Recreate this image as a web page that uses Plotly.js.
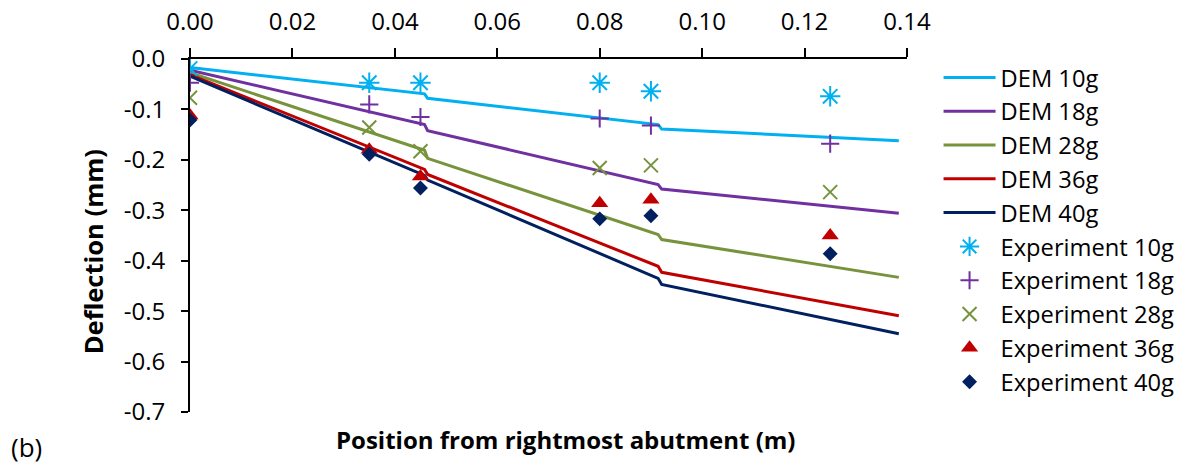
<!DOCTYPE html>
<html>
<head>
<meta charset="utf-8">
<script src="https://cdn.plot.ly/plotly-3.0.1.min.js"></script>
<style>
  html, body { margin: 0; padding: 0; background: #ffffff; }
  #chart { width: 1198px; height: 468px; }
</style>
</head>
<body>
<div id="chart"></div>
<script>
// DEM model: positions from the rightmost abutment (m) and deflections (mm)
const demX  = [0, 0.0458, 0.0464, 0.0914, 0.0921, 0.1384];
const dem10 = [-0.017, -0.069, -0.078, -0.130, -0.139, -0.162];
const dem18 = [-0.022, -0.130, -0.142, -0.249, -0.258, -0.306];
const dem28 = [-0.027, -0.181, -0.197, -0.348, -0.358, -0.433];
const dem36 = [-0.031, -0.219, -0.229, -0.411, -0.423, -0.509];
const dem40 = [-0.034, -0.231, -0.240, -0.435, -0.447, -0.545];

// Measured deflections (mm) at the gauge positions (m)
const expX  = [0, 0.035, 0.045, 0.08, 0.09, 0.125];
const exp10 = [-0.019, -0.047, -0.047, -0.047, -0.064, -0.074];
const exp18 = [-0.047, -0.090, -0.115, -0.118, -0.132, -0.168];
const exp28 = [-0.077, -0.136, -0.183, -0.216, -0.211, -0.264];
const exp36 = [-0.112, -0.180, -0.233, -0.286, -0.279, -0.350];
const exp40 = [-0.121, -0.189, -0.256, -0.317, -0.311, -0.386];

// Axis ticks
const xTickVals = [0, 0.02, 0.04, 0.06, 0.08, 0.10, 0.12, 0.14];
const xTickText = ['0.00', '0.02', '0.04', '0.06', '0.08', '0.10', '0.12', '0.14'];
const yTickVals = [0, -0.1, -0.2, -0.3, -0.4, -0.5, -0.6, -0.7];
const yTickText = ['0.0', '-0.1', '-0.2', '-0.3', '-0.4', '-0.5', '-0.6', '-0.7'];

const FONT = '"Open Sans", Lato, sans-serif';
const C10 = '#00B0F0', C18 = '#7030A0', C28 = '#77933C', C36 = '#C00000', C40 = '#002060';

function demTrace(name, y, color) {
  return { x: demX, y: y, name: name, type: 'scatter', mode: 'lines',
           line: { color: color, width: 3 } };
}
function expTrace(name, y, color, symbol, size, lw) {
  return { x: expX, y: y, name: name, type: 'scatter', mode: 'markers',
           marker: { symbol: symbol, size: size, color: color,
                     line: { color: color, width: lw } } };
}

const traces = [
  demTrace('DEM 10g', dem10, C10),
  demTrace('DEM 18g', dem18, C18),
  demTrace('DEM 28g', dem28, C28),
  demTrace('DEM 36g', dem36, C36),
  demTrace('DEM 40g', dem40, C40),
  expTrace('Experiment 10g', exp10, C10, 'asterisk-open', 17, 2),
  expTrace('Experiment 18g', exp18, C18, 'cross-thin-open', 13, 2),
  expTrace('Experiment 28g', exp28, C28, 'x-thin-open', 14, 2),
  expTrace('Experiment 36g', exp36, C36, 'triangle-up', 15, 0),
  expTrace('Experiment 40g', exp40, C40, 'diamond', 11.5, 0)
];

const layout = {
  width: 1198, height: 468,
  paper_bgcolor: '#ffffff', plot_bgcolor: '#ffffff',
  margin: { l: 190, r: 291, t: 59, b: 56, pad: 0 },
  font: { family: FONT, size: 24, color: '#000000' },
  showlegend: true,
  legend: {
    x: 1.044, xanchor: 'left', y: 1.01, yanchor: 'top',
    font: { family: FONT, size: 23.7, color: '#000000' },
    bgcolor: 'rgba(0,0,0,0)', borderwidth: 0, tracegroupgap: 0,
    itemwidth: 52, maxheight: 420
  },
  xaxis: {
    range: [0, 0.14], side: 'top',
    tickmode: 'array', tickvals: xTickVals, ticktext: xTickText,
    showline: true, linecolor: '#000000', linewidth: 2,
    ticks: 'outside', ticklen: 9, tickwidth: 2, tickcolor: '#000000',
    ticklabelstandoff: 8,
    showgrid: false, zeroline: false,
    tickfont: { family: FONT, size: 24, color: '#000000' }
  },
  yaxis: {
    range: [-0.7, 0],
    tickmode: 'array', tickvals: yTickVals, ticktext: yTickText,
    showline: true, linecolor: '#000000', linewidth: 2,
    ticks: 'outside', ticklen: 7, tickwidth: 2, tickcolor: '#000000',
    ticklabelstandoff: 11,
    showgrid: false, zeroline: false,
    tickfont: { family: FONT, size: 24, color: '#000000' }
  },
  annotations: [
    { text: '<b>Position from rightmost abutment (m)</b>', xref: 'paper', yref: 'paper',
      x: 0.524, y: -0.079, xanchor: 'center', yanchor: 'middle', showarrow: false,
      font: { family: FONT, size: 24, color: '#000000' } },
    { text: '<b>Deflection (mm)</b>', xref: 'paper', yref: 'paper',
      x: -0.135, y: 0.453, xanchor: 'center', yanchor: 'middle', showarrow: false, textangle: -90,
      font: { family: FONT, size: 25.5, color: '#000000' } },
    { text: '(b)', xref: 'paper', yref: 'paper',
      x: -0.228, y: -0.099, xanchor: 'center', yanchor: 'middle', showarrow: false,
      font: { family: FONT, size: 26, color: '#000000' } }
  ]
};

Plotly.newPlot('chart', traces, layout, { displayModeBar: false, staticPlot: true });
</script>
</body>
</html>
